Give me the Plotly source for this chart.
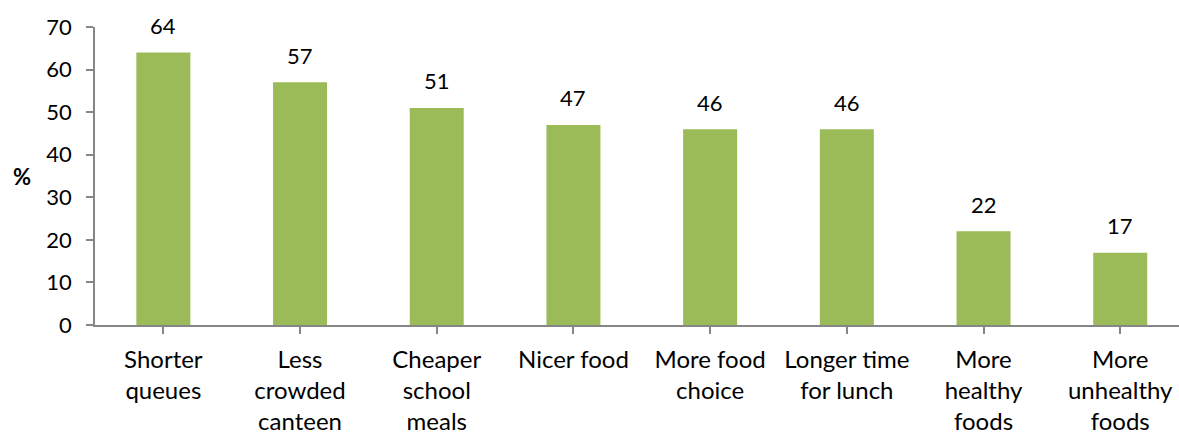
import plotly.graph_objects as go

categories = [
    "Shorter<br>queues",
    "Less<br>crowded<br>canteen",
    "Cheaper<br>school<br>meals",
    "Nicer food",
    "More food<br>choice",
    "Longer time<br>for lunch",
    "More<br>healthy<br>foods",
    "More<br>unhealthy<br>foods",
]
values = [64, 57, 51, 47, 46, 46, 22, 17]
y_ticks = [0, 10, 20, 30, 40, 50, 60, 70]

FONT = "Lato, Calibri, Carlito, sans-serif"
BAR_COLOR = "#9BBB59"
AXIS_COLOR = "#868686"

x_idx = list(range(len(categories)))

fig = go.Figure(
    go.Bar(
        x=x_idx,
        y=values,
        marker=dict(color=BAR_COLOR, line=dict(width=0)),
        width=0.395,
        hoverinfo="skip",
    )
)

# value labels above each bar
for i, v in zip(x_idx, values):
    fig.add_annotation(
        x=i, y=v, text=str(v), showarrow=False,
        yanchor="middle", yshift=27,
        font=dict(family=FONT, size=22, color="#000000"),
    )

# horizontal "%" axis label
fig.add_annotation(
    x=-0.067, xref="paper", y=35, yref="y", text="<b>%</b>",
    showarrow=False, xanchor="center", yanchor="middle",
    font=dict(family=FONT, size=22, color="#000000"),
)

fig.update_layout(
    width=1179,
    height=432,
    autosize=False,
    margin=dict(l=95, r=0, t=27, b=107, pad=0),
    paper_bgcolor="#FFFFFF",
    plot_bgcolor="#FFFFFF",
    showlegend=False,
    font=dict(family=FONT, size=22, color="#000000"),
    xaxis=dict(
        range=[-0.5, 7.43],
        tickmode="array",
        tickvals=x_idx,
        ticktext=categories,
        ticks="outside",
        tickson="boundaries",
        ticklen=7,
        tickcolor=AXIS_COLOR,
        tickwidth=1.5,
        showline=True,
        linecolor=AXIS_COLOR,
        linewidth=1.5,
        showgrid=False,
        zeroline=False,
        automargin=False,
        ticklabelstandoff=5,
        tickfont=dict(family=FONT, size=24, color="#000000"),
        fixedrange=True,
    ),
    yaxis=dict(
        range=[0, 70],
        tickmode="array",
        tickvals=y_ticks,
        ticks="outside",
        ticklen=7,
        tickcolor=AXIS_COLOR,
        tickwidth=1.5,
        showline=True,
        linecolor=AXIS_COLOR,
        linewidth=1.5,
        showgrid=False,
        zeroline=False,
        automargin=False,
        ticklabelstandoff=10,
        tickfont=dict(family=FONT, size=22, color="#000000"),
        fixedrange=True,
    ),
)

fig.write_html("out.html", config={"displayModeBar": False})
